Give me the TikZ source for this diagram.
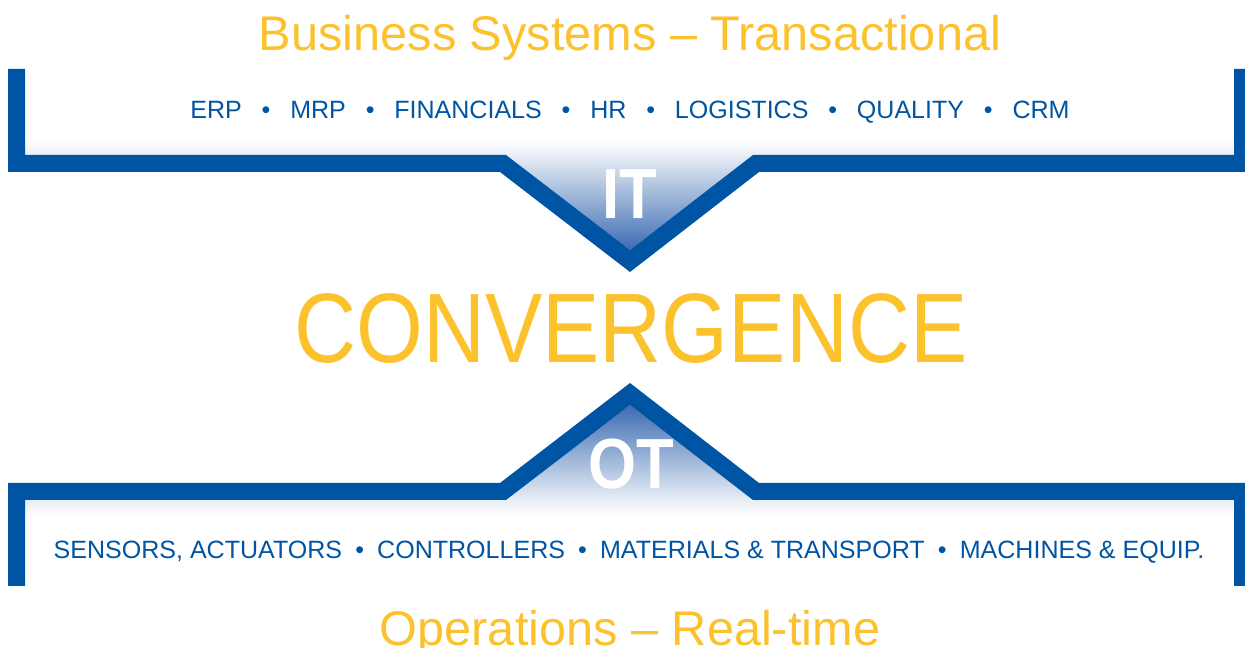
\documentclass[tikz,border=0pt]{standalone}
\usepackage{fontspec}
\setmainfont{Liberation Sans}
\newfontfamily\narrowsans[FakeStretch=0.87]{Liberation Sans}
\definecolor{ctblue}{RGB}{0,84,164}
\definecolor{ctyellow}{RGB}{252,194,45}
\definecolor{ctshade}{RGB}{60,108,178}
\definecolor{ctmist}{RGB}{232,238,246}
\newcommand{\dotsep}[1]{\hspace{#1}\textbullet\hspace{#1}}

\begin{document}
\begin{tikzpicture}[x=0.02cm, y=-0.02cm,
  headline/.style={text=ctyellow, anchor=base, inner sep=0, font=\fontsize{27.7}{30}\selectfont},
  itemline/.style={text=ctblue, anchor=base, inner sep=0, font=\fontsize{14.25}{16}\selectfont},
  tag/.style={text=white, anchor=base, inner sep=0, font=\narrowsans\bfseries\fontsize{40.4}{44}\selectfont}]
  \useasboundingbox (0,0) rectangle (1245,648);

  % soft glow inside the brackets
  \shade[top color=white, bottom color=ctmist] (25,140) rectangle (1234,155);
  \shade[top color=ctmist, bottom color=white] (25,500) rectangle (1234,516);
  \shade[top color=ctmist, bottom color=ctshade] (506,155) -- (753,155) -- (630,250) -- cycle;
  \shade[top color=ctshade, bottom color=ctmist] (630,405) -- (753,500) -- (506,500) -- cycle;

  % brackets
  \fill[ctblue] (8,69) -- (8,172) -- (500,172) -- (630,272) -- (759,172) -- (1245,172) -- (1245,69)
    -- (1234,69) -- (1234,155) -- (753,155) -- (630,250) -- (506,155) -- (25,155) -- (25,69) -- cycle;
  \fill[ctblue] (8,586) -- (8,483) -- (500,483) -- (630,383) -- (759,483) -- (1245,483) -- (1245,586)
    -- (1234,586) -- (1234,500) -- (753,500) -- (630,405) -- (506,500) -- (25,500) -- (25,586) -- cycle;

  \node[headline] (title) at (630,51) {Business Systems – Transactional};
  \node[itemline] (itlist) at (630,119) {ERP\dotsep{11.3pt}MRP\dotsep{11.3pt}FINANCIALS\dotsep{11.3pt}HR\dotsep{11.3pt}LOGISTICS\dotsep{11.3pt}QUALITY\dotsep{11.3pt}CRM};
  \node[tag] (itlabel) at (630,219) {IT};
  \node[text=ctyellow, anchor=base, inner sep=0, font=\narrowsans\fontsize{56.2}{60}\selectfont] (convergence) at (631,363) {CONVERGENCE};
  \node[tag] (otlabel) at (631,489) {OT};
  \node[itemline] (otlist) at (629,559) {SENSORS, ACTUATORS\dotsep{7.5pt}CONTROLLERS\dotsep{7.5pt}MATERIALS \& TRANSPORT\dotsep{7.5pt}MACHINES \& EQUIP.};
  \node[headline] (subtitle) at (630,645) {Operations – Real-time};
\end{tikzpicture}
\end{document}
